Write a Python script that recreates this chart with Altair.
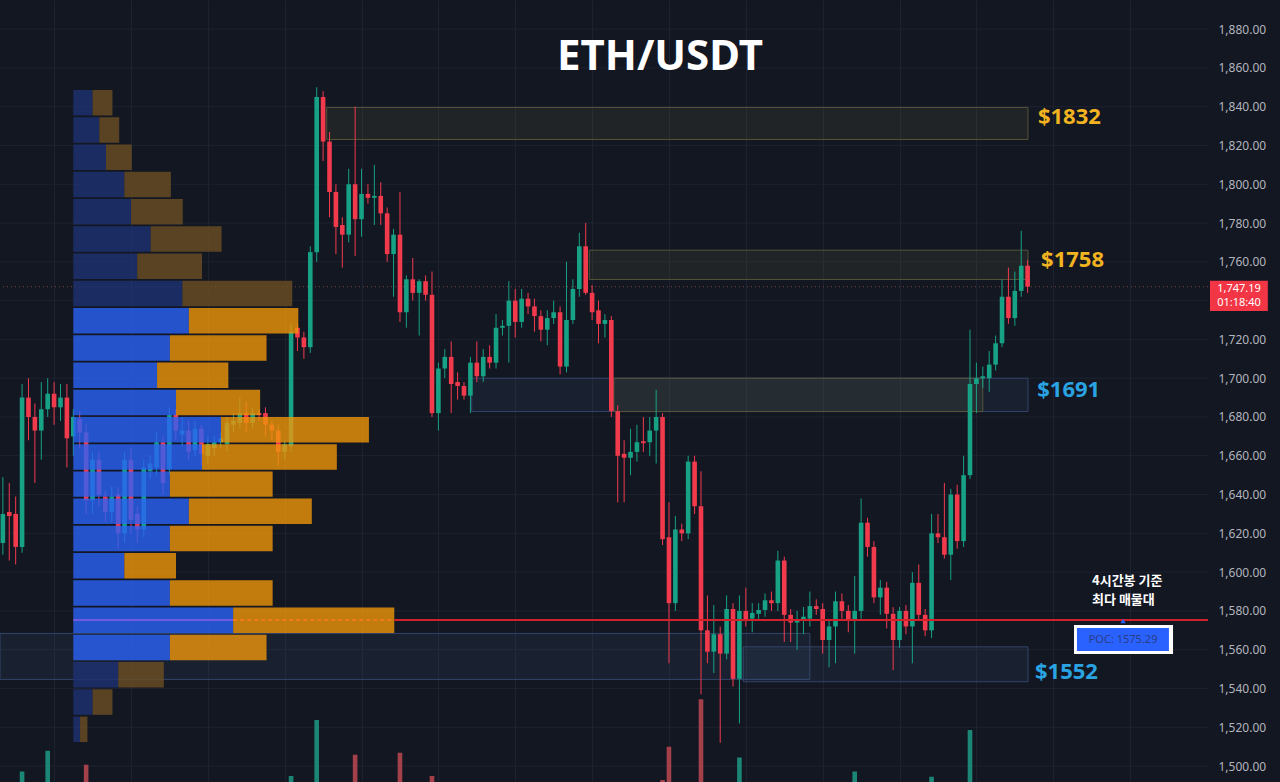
import altair as alt
import pandas as pd

# ---------------- data ----------------
opens = [1615, 1631, 1630, 1613, 1690, 1680, 1673, 1684, 1692, 1685,
         1690, 1670, 1679, 1672, 1637, 1658, 1639, 1631, 1640, 1620,
         1658, 1630, 1622, 1652, 1654, 1667, 1653, 1681, 1671, 1673,
         1663, 1674, 1660, 1664, 1667, 1666, 1676, 1677, 1682, 1677,
         1682, 1682, 1676, 1673, 1662, 1665, 1726, 1721, 1716, 1765,
         1845, 1822, 1796, 1779, 1774, 1800, 1782, 1795, 1793, 1794,
         1785, 1764, 1774, 1734, 1751, 1744, 1750, 1743, 1682, 1705,
         1711, 1698, 1696, 1691, 1708, 1701, 1711, 1708, 1726, 1727,
         1740, 1729, 1741, 1737, 1732, 1725, 1731, 1734, 1706, 1730,
         1746, 1768, 1744, 1735, 1728, 1730, 1683, 1661, 1659, 1662,
         1667.5, 1667, 1673, 1680, 1618, 1584, 1622, 1620, 1657, 1634,
         1570, 1559, 1568, 1558, 1581, 1545, 1580, 1576, 1578.5, 1580.5,
         1585.5, 1584, 1606, 1578, 1574, 1575.5, 1576, 1582.5, 1581, 1565,
         1572, 1585, 1580, 1575, 1580, 1625.5, 1613, 1587, 1592, 1578.5,
         1565, 1580, 1572, 1594.5, 1578, 1570, 1620, 1618, 1609, 1640,
         1616, 1650, 1697, 1700, 1700, 1707, 1718, 1742, 1731, 1745,
         1758]
highs = [1649, 1646, 1639, 1697, 1700, 1687, 1698, 1700, 1698, 1697,
         1697, 1684, 1683, 1676, 1662, 1662, 1642, 1644, 1644, 1662,
         1664, 1634, 1658, 1660, 1672, 1670, 1685, 1684, 1680, 1678,
         1678, 1676, 1670, 1670, 1672, 1680, 1682, 1690, 1688, 1685,
         1684, 1685, 1678, 1676, 1668, 1728, 1728, 1724, 1768, 1850,
         1848, 1827, 1800, 1783, 1808, 1840, 1808, 1800, 1810, 1801,
         1788, 1777, 1796, 1753, 1762, 1751, 1753, 1755, 1708, 1715,
         1719, 1703, 1698, 1711, 1719, 1715, 1717, 1733, 1730, 1750,
         1746, 1746, 1744, 1741, 1735, 1735, 1740, 1737, 1760, 1751,
         1775, 1780, 1748, 1740, 1733, 1732, 1686, 1668, 1674, 1676,
         1680, 1680, 1694, 1682, 1636, 1629, 1625, 1660, 1660, 1652,
         1588, 1583, 1572, 1588, 1584, 1588, 1592, 1584, 1584, 1589,
         1590, 1611, 1608, 1581, 1580, 1582, 1590, 1586, 1584, 1575,
         1590, 1589, 1583, 1598, 1638, 1628, 1616, 1596, 1595, 1582,
         1582, 1583, 1600, 1604, 1581, 1630, 1630, 1646, 1643, 1645,
         1660, 1725, 1708, 1706, 1714, 1722, 1751, 1757, 1755, 1776,
         1761]
lows = [1609, 1606, 1604, 1610, 1668, 1646, 1658, 1680, 1676, 1678,
        1654, 1660, 1664, 1630, 1630, 1634, 1626, 1626, 1612, 1615,
        1620, 1615, 1618, 1648, 1650, 1640, 1650, 1668, 1665, 1658,
        1660, 1655, 1656, 1660, 1664, 1662, 1672, 1674, 1672, 1674,
        1678, 1670, 1668, 1655, 1658, 1662, 1714, 1710, 1713, 1760,
        1812, 1783, 1764, 1757, 1770, 1763, 1773, 1790, 1779, 1779,
        1760, 1742, 1729, 1726, 1740, 1722, 1740, 1680, 1673, 1700,
        1682, 1689, 1689, 1682, 1698, 1698, 1705, 1705, 1722, 1708,
        1721, 1726, 1733, 1724, 1719, 1717, 1728, 1702, 1703, 1728,
        1742, 1743, 1730, 1718, 1721, 1680, 1636, 1636, 1650, 1657,
        1662, 1660, 1656, 1614, 1553, 1580, 1616, 1617, 1630, 1537,
        1553, 1548, 1512, 1555, 1541, 1522, 1572, 1569, 1575, 1577,
        1580, 1580, 1564, 1564, 1560, 1568, 1572, 1578, 1558, 1551,
        1553, 1576, 1569, 1558, 1576, 1608, 1584, 1578, 1571, 1549.5,
        1561, 1568, 1553, 1575, 1567, 1566, 1615, 1607, 1596, 1612,
        1613, 1648, 1682, 1695, 1693, 1704, 1716, 1728, 1727, 1742,
        1744]
closes = [1630, 1629, 1613, 1690, 1680, 1673, 1684, 1692, 1685, 1690,
          1669, 1680, 1672, 1637, 1658, 1640, 1631, 1639, 1620, 1658,
          1627, 1622, 1654, 1656, 1667, 1646, 1681, 1673, 1673, 1662,
          1674, 1661, 1666, 1667, 1669, 1677, 1678, 1682, 1677, 1682,
          1681, 1676, 1673, 1662, 1666, 1724, 1721, 1716, 1765, 1845,
          1822, 1796, 1778, 1774, 1800, 1782, 1795, 1793, 1794, 1785,
          1764, 1774, 1734, 1751, 1744, 1750, 1743, 1682, 1705, 1711,
          1697, 1696, 1691, 1708, 1701, 1711, 1708, 1726, 1727, 1740,
          1729, 1741, 1737, 1732, 1725, 1731, 1734, 1706, 1730, 1746,
          1768, 1744, 1734, 1728, 1730, 1683, 1660, 1659, 1662, 1667,
          1666.5, 1673, 1680, 1617, 1584, 1622, 1620, 1657, 1634, 1570,
          1559, 1568, 1558, 1581, 1545, 1580, 1575, 1579, 1580.5, 1585.5,
          1584, 1606, 1578, 1574, 1575.5, 1577, 1582.5, 1581, 1565, 1572,
          1585, 1580, 1575, 1580, 1625.5, 1613, 1587, 1592, 1578.5, 1565,
          1580, 1572, 1594.5, 1578, 1570, 1620, 1618, 1609, 1640, 1616,
          1650, 1697, 1700, 1701, 1707, 1718, 1742, 1731, 1745, 1758,
          1747.19]

# volume of the candles whose bars reach into the picture
vol_index = [3, 7, 13, 45, 49, 55, 62, 67, 103, 104, 109, 115, 133, 145, 151]
vol_values = [57.1, 62.3, 58.8, 56.0, 70.0, 61.3, 61.8, 56.0, 55.0, 63.3,
              75.2, 60.6, 57.1, 55.8, 67.5]

# volume profile rows, top (high price) to bottom
profile_buy = [6.0, 8.1, 10.2, 15.9, 18.0, 24.1, 19.9, 34.0, 36.0, 30.1, 26.1, 32.0,
               46.0, 40.1, 30.1, 36.0, 30.1, 15.9, 30.1, 49.8, 30.1, 14.0, 6.0, 2.1]
profile_sell = [6.2, 6.2, 8.0, 14.5, 16.1, 22.1, 20.2, 34.2, 34.1, 30.1, 22.2, 26.2,
                46.1, 42.0, 32.0, 38.3, 32.0, 16.1, 32.0, 50.2, 30.1, 14.2, 6.2, 2.3]
profile_high = 1848.6
profile_low = 1511.5
value_area_rows = (8, 20)
poc_price = 1575.29

# zones (x in candle index, y in price)
zone_start = [73.2, 95.4, 50.56, 91.56, -0.45, 115.6]
zone_end = [160.05, 153.0, 160.05, 160.05, 126.0, 160.05]
zone_top = [1700.0, 1700.0, 1839.6, 1766.0, 1568.4, 1561.5]
zone_bottom = [1682.8, 1682.8, 1823.1, 1750.9, 1544.7, 1543.5]
zone_kind = ["blue", "olive", "olive", "olive", "blue", "blue"]

level_labels = ["$1832", "$1758", "$1691", "$1552"]
level_kind = ["gold", "gold", "blue", "blue"]
level_x = [161.6, 162.1, 161.5, 161.15]
level_y = [1834.6, 1760.9, 1693.9, 1548.5]

last_price = 1747.19
countdown = "01:18:40"
title_text = "ETH/USDT"
note_lines = ["4시간봉 기준", "최다 매물대"]
y_ticks = list(range(1500, 1881, 20))

# ---------------- styling ----------------
W, H = 1208, 782
BG = "#131722"
GRID = "#1e2230"
UP = "#17a185"
DN = "#f23a4d"
X_DOM = [-0.4466, 188.16]
Y_DOM = [1491.8, 1895.0]


def xsc():
    return alt.Scale(domain=X_DOM, nice=False, zero=False)


def ysc():
    return alt.Scale(domain=Y_DOM, nice=False, zero=False)


# candles table
cd = pd.DataFrame({"i": list(range(len(opens))), "o": opens, "h": highs,
                   "l": lows, "c": closes})
cd["col"] = [UP if c >= o else DN for o, c in zip(opens, closes)]
cd["btop"] = cd[["o", "c"]].max(axis=1)
cd["bbot"] = cd[["o", "c"]].min(axis=1)
thin = (cd["btop"] - cd["bbot"]) < 0.7
cd.loc[thin, "btop"] = cd.loc[thin, "btop"] + 0.35
cd.loc[thin, "bbot"] = cd.loc[thin, "bbot"] - 0.35
cd["xl"] = cd["i"] - 0.36
cd["xr"] = cd["i"] + 0.36

vd = pd.DataFrame({"i": vol_index, "v": vol_values})
vd["col"] = ["#1b8676" if closes[k] >= opens[k] else "#a3404a" for k in vol_index]
vd["xl"] = vd["i"] - 0.36
vd["xr"] = vd["i"] + 0.36

# profile table
nrows = len(profile_buy)
step = (profile_high - profile_low) / nrows
prow = []
for r in range(nrows):
    top = profile_high - r * step
    bot = top - step + 0.9
    va = value_area_rows[0] <= r <= value_area_rows[1]
    b, s = profile_buy[r], profile_sell[r]
    prow.append({"x0": 0, "x1": b, "top": top, "bot": bot,
                 "col": "#2b63f8" if va else "#1e3274"})
    prow.append({"x0": b, "x1": b + s, "top": top, "bot": bot,
                 "col": "#ef960a" if va else "#6c4f23"})
pdf = pd.DataFrame(prow)
poc_row = max(range(nrows), key=lambda r: profile_buy[r] + profile_sell[r])
poc_total = profile_buy[poc_row] + profile_sell[poc_row]
PX = alt.Scale(domain=[0, 100], range=[73.3, 394.3], nice=False, zero=False)

zcol = {"olive": ("rgba(112,112,70,0.15)", "#55553a"),
        "blue": ("rgba(70,100,150,0.13)", "#33446a")}
zd = pd.DataFrame({"x0": zone_start, "x1": zone_end, "top": zone_top,
                   "bot": zone_bottom})
zd["fill"] = [zcol[k][0] for k in zone_kind]
zd["stroke"] = [zcol[k][1] for k in zone_kind]

# last-price tag extent (price units); axis labels hidden under it are dropped
tag_top, tag_bot = last_price + 3.0, last_price - 12.6
label_ticks = [t for t in y_ticks if not (tag_bot - 4 <= t <= tag_top + 4)]

# ---------------- layers ----------------
hgrid = alt.Chart(pd.DataFrame({"p": y_ticks})).mark_rule(color=GRID, strokeWidth=1).encode(
    y=alt.Y("p:Q", scale=ysc(), axis=None))

zones = alt.Chart(zd).mark_rect(strokeWidth=1).encode(
    x=alt.X("x0:Q", scale=xsc(), title=None,
            axis=alt.Axis(values=list(range(8, 180, 12)), labels=False, ticks=False,
                          domain=False, grid=True, gridColor=GRID, gridWidth=1)),
    x2="x1:Q",
    y=alt.Y("top:Q", scale=ysc(), title=None,
            axis=alt.Axis(orient="right", values=label_ticks, format=",.2f",
                          labelColor="#b2b5be", labelFontSize=12, labelFont="Noto Sans",
                          labelPadding=10, labelAlign="left", ticks=False, domain=False,
                          grid=False)),
    y2="bot:Q",
    fill=alt.Fill("fill:N", scale=None),
    stroke=alt.Stroke("stroke:N", scale=None),
)

vols = alt.Chart(vd).mark_rect(clip=True).encode(
    x=alt.X("xl:Q", scale=xsc(), axis=None),
    x2="xr:Q",
    y=alt.Y("v:Q", scale=alt.Scale(domain=[0, 100], range=[1000, 600], nice=False, zero=False),
            axis=None),
    y2=alt.datum(0),
    fill=alt.Fill("col:N", scale=None),
)

last_line = alt.Chart(pd.DataFrame({"p": [last_price]})).mark_rule(
    color="#7a4238", strokeDash=[1, 3], strokeWidth=1).encode(
    y=alt.Y("p:Q", scale=ysc(), axis=None))

wicks = alt.Chart(cd).mark_rule(strokeWidth=1).encode(
    x=alt.X("i:Q", scale=xsc(), axis=None),
    y=alt.Y("l:Q", scale=ysc(), axis=None),
    y2="h:Q",
    color=alt.Color("col:N", scale=None),
)

bodies = alt.Chart(cd).mark_rect().encode(
    x=alt.X("xl:Q", scale=xsc(), axis=None),
    x2="xr:Q",
    y=alt.Y("btop:Q", scale=ysc(), axis=None),
    y2="bbot:Q",
    fill=alt.Fill("col:N", scale=None),
)

profile = alt.Chart(pdf).mark_rect(opacity=0.8).encode(
    x=alt.X("x0:Q", scale=PX, axis=None),
    x2="x1:Q",
    y=alt.Y("top:Q", scale=ysc(), axis=None),
    y2="bot:Q",
    fill=alt.Fill("col:N", scale=None),
)

pocd = pd.DataFrame({"b": [profile_buy[poc_row]], "t": [poc_total], "p": [poc_price], "z": [0]})
poc_buy_line = alt.Chart(pocd).mark_rule(color="#8d5be8", strokeWidth=1.5).encode(
    x=alt.X("z:Q", scale=PX, axis=None), x2="b:Q",
    y=alt.Y("p:Q", scale=ysc(), axis=None))
poc_sell_line = alt.Chart(pocd).mark_rule(color="#ff7a1a", strokeWidth=1.5,
                                          strokeDash=[4, 3]).encode(
    x=alt.X("b:Q", scale=PX, axis=None), x2="t:Q",
    y=alt.Y("p:Q", scale=ysc(), axis=None))
poc_line = alt.Chart(pocd).mark_rule(color="#d1222c", strokeWidth=2).encode(
    x=alt.X("t:Q", scale=PX, axis=None), x2=alt.value(W),
    y=alt.Y("p:Q", scale=ysc(), axis=None))

# level labels
ld = pd.DataFrame({"t": level_labels, "x": level_x, "y": level_y})
ld["col"] = ["#f2b320" if k == "gold" else "#2aa3e2" for k in level_kind]
levels = alt.Chart(ld).mark_text(align="left", baseline="middle", fontSize=22,
                                 fontWeight="bold", font="Noto Sans").encode(
    x=alt.X("x:Q", scale=xsc(), axis=None),
    y=alt.Y("y:Q", scale=ysc(), axis=None),
    text="t:N",
    color=alt.Color("col:N", scale=None),
)

# POC badge (below the POC line, right side)
badge = pd.DataFrame({"x0": [167.24], "x1": [182.7], "top": [poc_price - 2.5],
                      "bot": [poc_price - 17.5]})
badge_in = pd.DataFrame({"x0": [167.7], "x1": [182.06], "top": [poc_price - 4.1],
                         "bot": [poc_price - 15.9]})
badge_outer = alt.Chart(badge).mark_rect(fill="#ffffff").encode(
    x=alt.X("x0:Q", scale=xsc(), axis=None), x2="x1:Q",
    y=alt.Y("top:Q", scale=ysc(), axis=None), y2="bot:Q")
badge_inner = alt.Chart(badge_in).mark_rect(fill="#2962ff").encode(
    x=alt.X("x0:Q", scale=xsc(), axis=None), x2="x1:Q",
    y=alt.Y("top:Q", scale=ysc(), axis=None), y2="bot:Q")
badge_text = alt.Chart(pd.DataFrame({"t": [f"POC: {poc_price:.2f}"], "x": [174.9],
                                     "y": [poc_price - 10.1]})).mark_text(
    align="center", baseline="middle", fontSize=11, font="Noto Sans",
    color="#2a3c86").encode(
    x=alt.X("x:Q", scale=xsc(), axis=None), y=alt.Y("y:Q", scale=ysc(), axis=None),
    text="t:N")
badge_tri = alt.Chart(pd.DataFrame({"x": [174.9], "y": [poc_price]})).mark_point(
    shape="triangle-up", filled=True, size=28, color="#2962ff", opacity=1, yOffset=1).encode(
    x=alt.X("x:Q", scale=xsc(), axis=None), y=alt.Y("y:Q", scale=ysc(), axis=None))

nd = pd.DataFrame({"t": note_lines, "x": [170.05, 170.05],
                   "y": [poc_price + 20.1, poc_price + 10.3]})
notes = alt.Chart(nd).mark_text(align="left", baseline="middle", fontSize=13,
                                fontWeight="bold", font="Noto Sans CJK KR",
                                color="#ffffff").encode(
    x=alt.X("x:Q", scale=xsc(), axis=None), y=alt.Y("y:Q", scale=ysc(), axis=None),
    text="t:N")

# last price tag on the axis
tag = pd.DataFrame({"x0": [188.47], "x1": [197.5], "top": [tag_top], "bot": [tag_bot]})
tag_rect = alt.Chart(tag).mark_rect(fill="#f23645").encode(
    x=alt.X("x0:Q", scale=xsc(), axis=None), x2="x1:Q",
    y=alt.Y("top:Q", scale=ysc(), axis=None), y2="bot:Q")
tag_text = alt.Chart(pd.DataFrame({"t": [f"{last_price:,.2f}", countdown],
                                   "x": [193.0, 193.0],
                                   "y": [last_price - 1.1, last_price - 8.5]})).mark_text(
    align="center", baseline="middle", fontSize=11, font="Noto Sans", color="#ffffff").encode(
    x=alt.X("x:Q", scale=xsc(), axis=None), y=alt.Y("y:Q", scale=ysc(), axis=None),
    text="t:N")

title = alt.Chart(pd.DataFrame({"t": [title_text]})).mark_text(
    align="center", baseline="alphabetic", fontSize=42, fontWeight="bold",
    font="Noto Sans", color="#ffffff").encode(
    x=alt.value(660), y=alt.value(70), text="t:N")

chart = alt.layer(
    hgrid, zones, vols, last_line, wicks, bodies, profile, poc_buy_line, poc_sell_line,
    poc_line, levels, badge_outer, badge_inner, badge_text, badge_tri, notes,
    tag_rect, tag_text, title,
).resolve_scale(x="independent", y="independent").properties(
    width=W, height=H,
    autosize=alt.AutoSizeParams(type="none"),
    padding={"left": 0, "top": 0, "right": 72, "bottom": 0},
    background=BG,
).configure_view(stroke=None, fill=BG)

chart.save("out.html", embed_options={"renderer": "svg", "actions": False})
